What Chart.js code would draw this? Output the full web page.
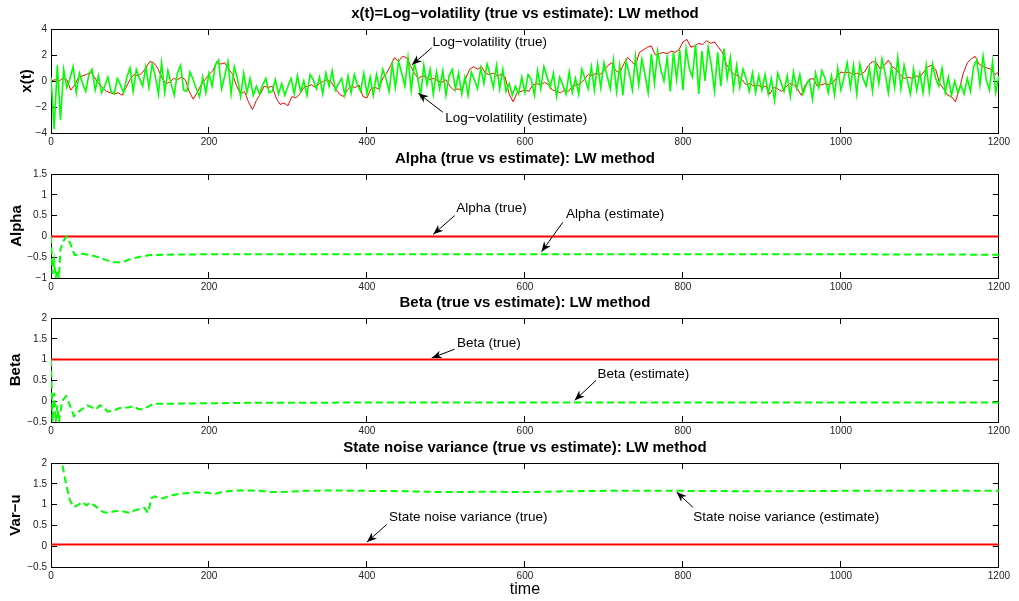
<!DOCTYPE html>
<html><head><meta charset="utf-8">
<script src="https://cdn.jsdelivr.net/npm/chart.js@4/dist/chart.umd.min.js"></script>
<style>
html,body{margin:0;padding:0;background:#fff;width:1019px;height:601px;overflow:hidden;position:relative}
canvas{position:absolute;left:0;display:block}
</style></head><body>
<canvas id="c1" width="1019" height="151" style="top:4px"></canvas>
<canvas id="c2" width="1019" height="151" style="top:149px"></canvas>
<canvas id="c3" width="1019" height="151" style="top:293px"></canvas>
<canvas id="c4" width="1019" height="163" style="top:438px"></canvas>
<script>
// ---------- DATA ----------
const xTicks = [0, 200, 400, 600, 800, 1000, 1200];
const yTicks1 = [-4, -2, 0, 2, 4];
const yTicks2 = [-1, -0.5, 0, 0.5, 1, 1.5];
const yTicks3 = [-0.5, 0, 0.5, 1, 1.5, 2];
const yTicks4 = [-0.5, 0, 0.5, 1, 1.5, 2];

// log-volatility (true), sampled every 5 steps
const logVolTrue = [
0.0,0.1,0.0,0.2,0.1,-0.7,-0.3,0.3,0.4,0.5,0.7,0.3,-0.2,-0.5,-0.8,-0.9,-1.0,-0.9,-1.1,-0.5,
0.1,0.5,0.4,0.6,1.0,1.5,1.4,1.0,0.3,-0.2,-0.1,0.2,0.1,0.3,0.1,-0.8,-1.4,-0.9,-0.3,0.1,
0.5,0.8,1.5,1.3,1.4,0.9,0.5,-0.4,-1.0,-0.8,-1.6,-2.2,-1.5,-1.0,-0.4,-0.5,-0.4,-1.3,-1.8,-1.7,
-1.9,-1.2,-1.3,-1.0,-0.5,-0.4,-0.3,-0.5,-0.2,0.0,0.1,-0.1,-0.6,-1.0,-1.2,-0.7,-0.4,-0.5,-0.3,-1.2,
-1.3,-0.6,-0.5,-0.6,0.2,0.6,1.2,1.8,1.5,1.9,1.8,1.2,0.6,0.2,0.4,0.3,0.1,0.2,0.0,-0.1,
0.1,-0.4,-0.7,-0.6,-0.7,0.2,0.9,1.1,0.9,1.1,0.6,0.5,0.6,0.4,0.5,0.3,-1.0,-1.6,-0.9,-0.8,
-0.7,-0.8,-0.3,-0.2,-0.3,-0.1,-0.3,-0.7,-0.8,-0.9,-0.7,-0.8,-0.4,-0.3,-0.2,0.1,0.5,0.4,0.6,0.5,
0.8,1.2,1.4,0.8,0.6,1.3,1.8,1.5,1.2,2.2,2.4,2.6,2.7,2.0,2.1,2.2,2.1,2.3,2.2,2.4,
3.0,3.2,2.6,2.7,2.9,2.8,3.1,2.9,3.0,2.6,2.2,1.3,0.8,0.5,0.4,0.1,-0.3,-0.2,-0.4,-0.3,
-0.5,-0.4,-1.0,-0.5,-0.6,-0.8,-0.5,-0.2,-0.3,-0.6,-1.1,-0.3,0.1,0.2,-0.4,-0.3,-0.2,-0.3,-0.1,0.3,
0.7,0.6,0.7,0.5,0.6,0.5,0.7,1.2,1.5,1.4,0.9,1.2,1.6,1.1,0.9,0.5,0.2,0.3,0.2,0.4,
0.3,0.7,1.1,1.2,0.9,-0.2,-0.6,-1.1,-1.2,-1.6,-0.6,0.6,1.4,1.7,1.9,1.3,1.1,1.0,0.9,0.5,
0.7];
const logVolTrueStep = 5;

// log-volatility (estimate), sampled every 4 steps
const logVolEst = [
0.3,-3.7,1.2,-3.0,0.9,-0.5,0.2,1.1,-0.9,0.6,-0.2,-0.8,0.5,0.9,-0.7,0.4,-0.9,-0.4,0.3,-0.8,-1.0,0.2,-0.3,-0.9,0.3,
1.0,-0.8,0.9,0.2,-0.4,1.1,-0.5,1.3,0.4,-1.0,1.4,-0.9,0.8,-0.2,-1.1,0.6,1.2,-0.7,-0.8,0.7,0.1,-0.6,-1.2,0.3,-0.9,
0.6,-0.4,1.2,1.6,-0.6,0.4,1.5,-1.0,1.1,0.2,-1.2,0.6,-0.9,0.2,-1.1,-0.4,-1.0,-0.3,0.2,-0.9,-0.8,0.1,-1.0,-0.2,-1.1,
-0.4,0.2,-1.0,0.4,-0.8,0.0,-1.1,0.5,0.1,-0.6,0.3,-1.0,0.6,-0.4,0.8,-0.7,-0.2,0.2,-1.1,0.4,-0.9,0.5,-0.3,-0.8,0.6,
-1.0,0.3,-1.1,0.5,-0.6,0.9,0.2,-0.8,1.3,-0.5,1.5,0.6,-0.4,1.8,-0.7,1.4,0.3,-1.1,1.2,-0.3,0.9,-1.0,0.7,-0.6,0.8,
-1.1,0.4,0.9,-0.6,0.6,-1.0,0.3,-1.1,0.7,0.1,-0.6,1.0,-0.2,1.3,0.5,-0.5,1.2,-0.6,0.9,-0.8,-0.2,-1.1,-0.4,-1.0,0.3,
-0.9,0.5,0.1,-1.1,0.8,-0.6,1.1,0.3,-0.5,0.6,-1.2,0.3,-0.3,-1.0,0.7,-0.9,0.2,-1.0,0.9,0.2,-0.6,1.1,-0.7,1.3,-0.5,
1.4,0.4,-0.6,1.6,-0.8,1.2,-1.1,1.5,0.6,-0.7,1.9,-0.3,1.7,0.5,-0.9,2.1,-0.2,2.3,0.9,0.0,1.8,-0.8,2.2,0.1,2.4,
-0.7,2.5,1.0,0.3,2.8,-1.0,2.3,0.0,2.6,1.2,-0.8,2.2,-0.4,2.5,0.2,1.8,-0.6,1.2,-0.5,0.9,0.2,-0.8,0.6,-0.9,0.4,
-0.7,0.5,-1.0,0.2,-1.5,0.6,-0.1,-0.8,0.4,-1.2,0.7,-0.6,0.5,-1.0,-0.3,0.1,-1.4,0.6,-0.5,0.8,0.2,-0.9,0.4,-1.1,1.0,
-0.7,0.3,1.4,-0.5,1.2,-1.0,1.3,0.2,-0.4,1.0,-0.8,1.5,-0.2,1.7,0.6,-0.9,1.1,-0.5,1.8,-0.6,1.2,0.1,-1.0,0.9,-0.7,
0.6,-0.9,1.2,-0.8,1.3,0.2,-0.4,1.0,-0.9,0.3,-1.1,0.0,-0.9,-0.3,-1.0,0.2,-0.8,1.1,1.6,-0.3,1.9,0.1,-0.7,1.5,-0.9,
0.4];
const logVolEstStep = 4;

// true parameters (constant)
const paramTime = [0, 1200];
const alphaTrue = [0, 0];
const betaTrue = [1, 1];
const varTrue = [0.04, 0.04];

// alpha estimate
const alphaTime = [0,2,4,6,8,10,12,16,20,25,30,40,50,60,70,80,90,100,110,125,140,200,300,400,600,800,1000,1200];
const alphaEst  = [0,-0.9,-0.6,-1.0,-0.8,-1.0,-0.3,-0.1,0.0,-0.2,-0.45,-0.42,-0.45,-0.5,-0.57,-0.62,-0.62,-0.55,-0.5,-0.45,-0.44,-0.43,-0.43,-0.43,-0.43,-0.43,-0.43,-0.44];

// beta estimate
const betaTime = [0,2,4,6,8,10,14,19,24,29,35,40,46,52,57,62,67,72,80,86,92,98,104,110,116,122,130,150,200,250,300,400,500,600,800,1000,1200];
const betaEst  = [1.0,-0.5,0.2,-0.5,-0.1,-0.5,0.0,0.12,-0.1,-0.36,-0.25,-0.18,-0.1,-0.15,-0.2,-0.1,-0.15,-0.25,-0.22,-0.17,-0.15,-0.15,-0.12,-0.18,-0.2,-0.14,-0.06,-0.06,-0.05,-0.04,-0.04,-0.03,-0.03,-0.03,-0.03,-0.03,-0.03];

// state noise variance estimate
const varTime = [0,5,10,14,19,24,29,35,40,45,49,53,57,62,66,72,80,87,93,100,106,113,118,123,127,131,136,142,148,155,163,171,180,190,200,207,215,225,235,250,265,280,300,320,350,400,450,500,550,600,650,700,800,900,1000,1100,1200];
const varEst  = [3.5,3.0,2.6,2.0,1.5,1.1,0.94,1.0,1.06,0.98,1.05,1.0,0.95,0.88,0.82,0.8,0.84,0.85,0.83,0.8,0.86,0.9,0.92,0.8,1.15,1.2,1.17,1.15,1.2,1.23,1.26,1.27,1.3,1.29,1.28,1.25,1.3,1.32,1.34,1.34,1.33,1.3,1.31,1.33,1.34,1.33,1.32,1.3,1.31,1.3,1.32,1.33,1.33,1.32,1.33,1.33,1.33];

// ---------- TEXT ----------
const titles = {
  c1: 'x(t)=Log\u2212volatility (true vs estimate): LW method',
  c2: 'Alpha (true vs estimate): LW method',
  c3: 'Beta (true vs estimate): LW method',
  c4: 'State noise variance (true vs estimate): LW method'
};
const yLabels = { c1: 'x(t)', c2: 'Alpha', c3: 'Beta', c4: 'Var\u2212u' };
// annotations in data coordinates: text position, arrow start, arrow head
const notes = {
  c1: [
    {text:'Log\u2212volatility (true)', tx:483, ty:3.0, sx:482, sy:2.55, hx:457, hy:1.25},
    {text:'Log\u2212volatility (estimate)', tx:499, ty:-2.87, sx:496, sy:-2.4, hx:465, hy:-0.95}
  ],
  c2: [
    {text:'Alpha (true)', tx:513, ty:0.68, sx:511, sy:0.5, hx:484, hy:0.05},
    {text:'Alpha (estimate)', tx:652, ty:0.53, sx:648, sy:0.34, hx:621, hy:-0.37}
  ],
  c3: [
    {text:'Beta (true)', tx:514, ty:1.4, sx:511, sy:1.25, hx:482, hy:1.04},
    {text:'Beta (estimate)', tx:692, ty:0.65, sx:690, sy:0.5, hx:663, hy:0.02}
  ],
  c4: [
    {text:'State noise variance (true)', tx:428, ty:0.69, sx:425, sy:0.52, hx:400, hy:0.1},
    {text:'State noise variance (estimate)', tx:813, ty:0.69, sx:813, sy:0.93, hx:792, hy:1.3}
  ]
};

// ---------- HELPERS ----------
const FONT = '"Liberation Sans", Arial, Helvetica, sans-serif';
const RED = '#ff0000', GREEN = '#00ff00';
const pts = (xs, ys) => ys.map((v, i) => ({x: xs[i], y: v}));
const stepPts = (ys, step) => ys.map((v, i) => ({x: i * step, y: v}));
const fmt = v => String(v).replace('-', '\u2212');

const annotPlugin = {
  id: 'annotPlugin',
  afterDraw(chart) {
    const id = chart.canvas.id;
    const {ctx, chartArea, scales} = chart;
    const sx = scales.x, sy = scales.y;
    ctx.save();
    ctx.fillStyle = '#000';
    ctx.font = 'bold 15px ' + FONT;
    ctx.textAlign = 'center';
    ctx.textBaseline = 'middle';
    ctx.fillText(titles[id], (chartArea.left + chartArea.right) / 2, chartArea.top - 15);
    ctx.font = '13.5px ' + FONT;
    ctx.textAlign = 'left';
    (notes[id] || []).forEach(n => {
      ctx.fillStyle = '#000';
      ctx.fillText(n.text, sx.getPixelForValue(n.tx), sy.getPixelForValue(n.ty));
      const x0 = sx.getPixelForValue(n.sx), y0 = sy.getPixelForValue(n.sy);
      const x1 = sx.getPixelForValue(n.hx), y1 = sy.getPixelForValue(n.hy);
      ctx.strokeStyle = '#000'; ctx.lineWidth = 1;
      ctx.beginPath(); ctx.moveTo(x0, y0); ctx.lineTo(x1, y1); ctx.stroke();
      const a = Math.atan2(y1 - y0, x1 - x0), L = 10, W = 4, B = 7;
      const ca = Math.cos(a), sa = Math.sin(a);
      ctx.beginPath();
      ctx.moveTo(x1, y1);
      ctx.lineTo(x1 - L * ca - W * sa, y1 - L * sa + W * ca);
      ctx.lineTo(x1 - B * ca, y1 - B * sa);
      ctx.lineTo(x1 - L * ca + W * sa, y1 - L * sa - W * ca);
      ctx.closePath(); ctx.fill();
    });
    ctx.restore();
  }
};

function makeChart(id, datasets, yMin, yMax, yStep, yTitlePad, xTitle) {
  const gridOpts = {drawOnChartArea: false, drawTicks: true, tickLength: -6, color: '#000', lineWidth: 1};
  const borderOpts = {display: true, color: '#000', width: 1};
  new Chart(document.getElementById(id), {
    type: 'line',
    data: {datasets},
    options: {
      responsive: false, animation: false, devicePixelRatio: 1,
      layout: {padding: {left: 0, right: 20, top: 25, bottom: 0}},
      plugins: {legend: {display: false}, tooltip: {enabled: false}, title: {display: false}},
      elements: {point: {radius: 0}, line: {tension: 0}},
      scales: {
        x: {
          type: 'linear', position: 'bottom', min: 0, max: 1200,
          afterBuildTicks: s => { s.ticks = xTicks.map(v => ({value: v})); },
          ticks: {color: '#222', font: {size: 10, family: FONT}, padding: 9, maxRotation: 0, callback: v => fmt(v)},
          grid: gridOpts, border: borderOpts,
          title: xTitle ? {display: true, text: xTitle, color: '#000', font: {size: 16, family: FONT}, padding: {top: 0, bottom: 2}} : {display: false},
          afterFit: s => { s.height = xTitle ? 34 : 22; }
        },
        x2: {
          type: 'linear', position: 'top', min: 0, max: 1200,
          afterBuildTicks: s => { s.ticks = xTicks.map(v => ({value: v})); },
          ticks: {display: false}, grid: gridOpts, border: borderOpts,
          afterFit: s => { s.height = 0; }
        },
        y: {
          type: 'linear', position: 'left', min: yMin, max: yMax,
          afterBuildTicks: s => { s.ticks = yStep.map(v => ({value: v})); },
          ticks: {color: '#222', font: {size: 10, family: FONT}, padding: 10, callback: v => fmt(v)},
          grid: gridOpts, border: borderOpts,
          title: {display: true, text: yLabels[id], color: '#000', font: {size: 15, weight: 'bold', family: FONT}, padding: {top: yTitlePad, bottom: 0}},
          afterFit: s => { s.width = 51; }
        },
        y2: {
          type: 'linear', position: 'right', min: yMin, max: yMax,
          afterBuildTicks: s => { s.ticks = yStep.map(v => ({value: v})); },
          ticks: {display: false}, grid: gridOpts, border: borderOpts,
          afterFit: s => { s.width = 0; }
        }
      }
    },
    plugins: [annotPlugin]
  });
}

makeChart('c1', [
  {data: stepPts(logVolEst, logVolEstStep), borderColor: GREEN, borderWidth: 1.6, xAxisID: 'x', yAxisID: 'y'},
  {data: stepPts(logVolTrue, logVolTrueStep), borderColor: RED, borderWidth: 1, xAxisID: 'x', yAxisID: 'y'}
], -4, 4, yTicks1, 18);

makeChart('c2', [
  {data: pts(alphaTime, alphaEst), borderColor: GREEN, borderWidth: 2, borderDash: [7, 4], xAxisID: 'x', yAxisID: 'y'},
  {data: pts(paramTime, alphaTrue), borderColor: RED, borderWidth: 2, xAxisID: 'x', yAxisID: 'y'}
], -1, 1.5, yTicks2, 8);

makeChart('c3', [
  {data: pts(betaTime, betaEst), borderColor: GREEN, borderWidth: 2, borderDash: [7, 4], xAxisID: 'x', yAxisID: 'y'},
  {data: pts(paramTime, betaTrue), borderColor: RED, borderWidth: 2, xAxisID: 'x', yAxisID: 'y'}
], -0.5, 2, yTicks3, 7);

makeChart('c4', [
  {data: pts(varTime, varEst), borderColor: GREEN, borderWidth: 2, borderDash: [7, 4], xAxisID: 'x', yAxisID: 'y'},
  {data: pts(paramTime, varTrue), borderColor: RED, borderWidth: 2, xAxisID: 'x', yAxisID: 'y'}
], -0.5, 2, yTicks4, 7, 'time');
</script>
</body></html>
